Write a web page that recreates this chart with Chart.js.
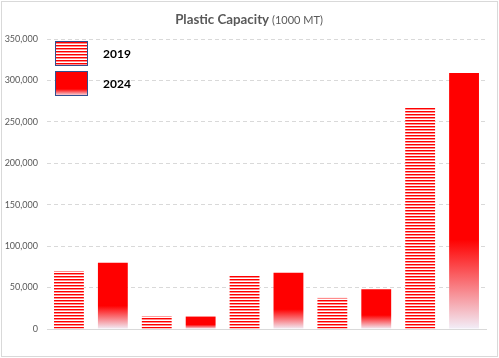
<!DOCTYPE html>
<html>
<head>
<meta charset="utf-8">
<script src="https://cdn.jsdelivr.net/npm/chart.js@4.4.1/dist/chart.umd.min.js"></script>
<style>
  html, body { margin: 0; padding: 0; background: #fff; }
  #wrap { width: 499px; height: 358px; }
</style>
</head>
<body>
<div id="wrap"><canvas id="chart" width="499" height="358"></canvas></div>
<script>
// Datos
const categories = ['Grupo 1', 'Grupo 2', 'Grupo 3', 'Grupo 4', 'Grupo 5'];
const seriesLabels = ['2019', '2024'];
const values2019 = [70000, 15500, 65000, 37500, 267000];
const values2024 = [80000, 15000, 68000, 48000, 309000];
const yTickValues = [0, 50000, 100000, 150000, 200000, 250000, 300000, 350000];
const titleMain = 'Plastic Capacity';
const titleUnit = ' (1000 MT)';

const RED = '#ff0000';
const FADE_END = 'rgb(242,238,248)';
const FONT = 'Lato, "Open Sans", sans-serif';

// Patrón de rayas horizontales (serie 2019)
function makeStripes(ctx) {
    const c = document.createElement('canvas');
    c.width = 4; c.height = 3;
    const p = c.getContext('2d');
    p.fillStyle = '#ffffff'; p.fillRect(0, 0, 4, 3);
    p.fillStyle = RED; p.fillRect(0, 0, 4, 1);
    p.fillStyle = '#ff8c8c'; p.fillRect(0, 1, 4, 1);
    return ctx.createPattern(c, 'repeat');
}

// Degradado rojo -> blanco en la parte baja de cada barra (serie 2024)
function fadeGradient(ctx, top, bottom, start) {
    const g = ctx.createLinearGradient(0, top, 0, bottom);
    g.addColorStop(0, RED);
    g.addColorStop(start || 0.65, RED);
    g.addColorStop(1, FADE_END);
    return g;
}

const canvas = document.getElementById('chart');
const stripes = makeStripes(canvas.getContext('2d'));

// Marco, título y leyenda dibujados a mano (estilo Excel)
const decorPlugin = {
    id: 'decor',
    beforeDraw(chart) {
        const ctx = chart.ctx;
        ctx.save();
        ctx.fillStyle = '#fff';
        ctx.fillRect(0, 0, chart.width, chart.height);
        ctx.strokeStyle = '#d9d9d9';
        ctx.lineWidth = 1;
        ctx.strokeRect(1.5, 1.5, 496, 355);
        ctx.restore();
    },
    afterDraw(chart) {
        const ctx = chart.ctx;
        ctx.save();
        // título: parte en negrita algo condensada para parecerse a Calibri
        ctx.fillStyle = '#595959';
        ctx.textBaseline = 'alphabetic';
        ctx.font = 'bold 14px ' + FONT;
        const raw1 = ctx.measureText(titleMain).width;
        const sx = Math.min(1, 94 / raw1);
        const w1 = raw1 * sx;
        ctx.font = '11px ' + FONT;
        const w2 = ctx.measureText(titleUnit).width;
        const x = 249 - (w1 + w2) / 2;
        ctx.save();
        ctx.translate(x, 24);
        ctx.scale(sx, 1);
        ctx.font = 'bold 14px ' + FONT;
        ctx.fillText(titleMain, 0, 0);
        ctx.restore();
        ctx.font = '11px ' + FONT;
        ctx.fillText(titleUnit, x + w1, 24);

        // leyenda
        const boxes = [
            { y: 41, fill: stripes },
            { y: 71, fill: fadeGradient(ctx, 71, 96, 0.72) }
        ];
        chart.data.datasets.forEach((ds, i) => {
            const b = boxes[i];
            ctx.fillStyle = b.fill;
            ctx.fillRect(55, b.y, 33, 25);
            ctx.strokeStyle = '#2f4f8f';
            ctx.lineWidth = 1;
            ctx.strokeRect(55.5, b.y + 0.5, 32, 24);
            ctx.fillStyle = '#000';
            ctx.font = 'bold 12px ' + FONT;
            ctx.textBaseline = 'middle';
            ctx.fillText(ds.label, 103, b.y + 13);
        });
        ctx.restore();
    }
};

new Chart(canvas, {
    type: 'bar',
    data: {
        labels: categories,
        datasets: [
            {
                label: seriesLabels[0],
                data: values2019,
                backgroundColor: stripes,
                borderWidth: 0
            },
            {
                label: seriesLabels[1],
                data: values2024,
                backgroundColor: (c) => {
                    const chart = c.chart;
                    if (!chart.chartArea || c.raw == null) return RED;
                    const y = chart.scales.y;
                    return fadeGradient(chart.ctx, y.getPixelForValue(c.raw), y.getPixelForValue(0));
                },
                borderWidth: 0
            }
        ]
    },
    options: {
        responsive: false,
        animation: false,
        categoryPercentage: 1,
        barPercentage: 0.68,
        layout: { padding: { top: 39, bottom: 29, left: 0, right: 13 } },
        plugins: {
            legend: { display: false },
            title: { display: false },
            tooltip: { enabled: false }
        },
        scales: {
            x: {
                ticks: { display: false },
                grid: { display: false, drawTicks: false },
                border: { display: true, color: '#d9d9d9', width: 1 },
                afterFit: (s) => { s.height = 0; }
            },
            y: {
                min: 0,
                max: 350000,
                afterFit: (s) => { s.width = 47; },
                afterBuildTicks: (s) => { s.ticks = yTickValues.map(v => ({ value: v })); },
                ticks: {
                    padding: 9,
                    color: '#595959',
                    font: { family: FONT, size: 9 },
                    callback: (v) => v.toLocaleString('en-US')
                },
                grid: { color: '#d9d9d9', drawTicks: false, lineWidth: 1 },
                border: { display: false, dash: [4, 3] }
            }
        }
    },
    plugins: [decorPlugin]
});
</script>
</body>
</html>
